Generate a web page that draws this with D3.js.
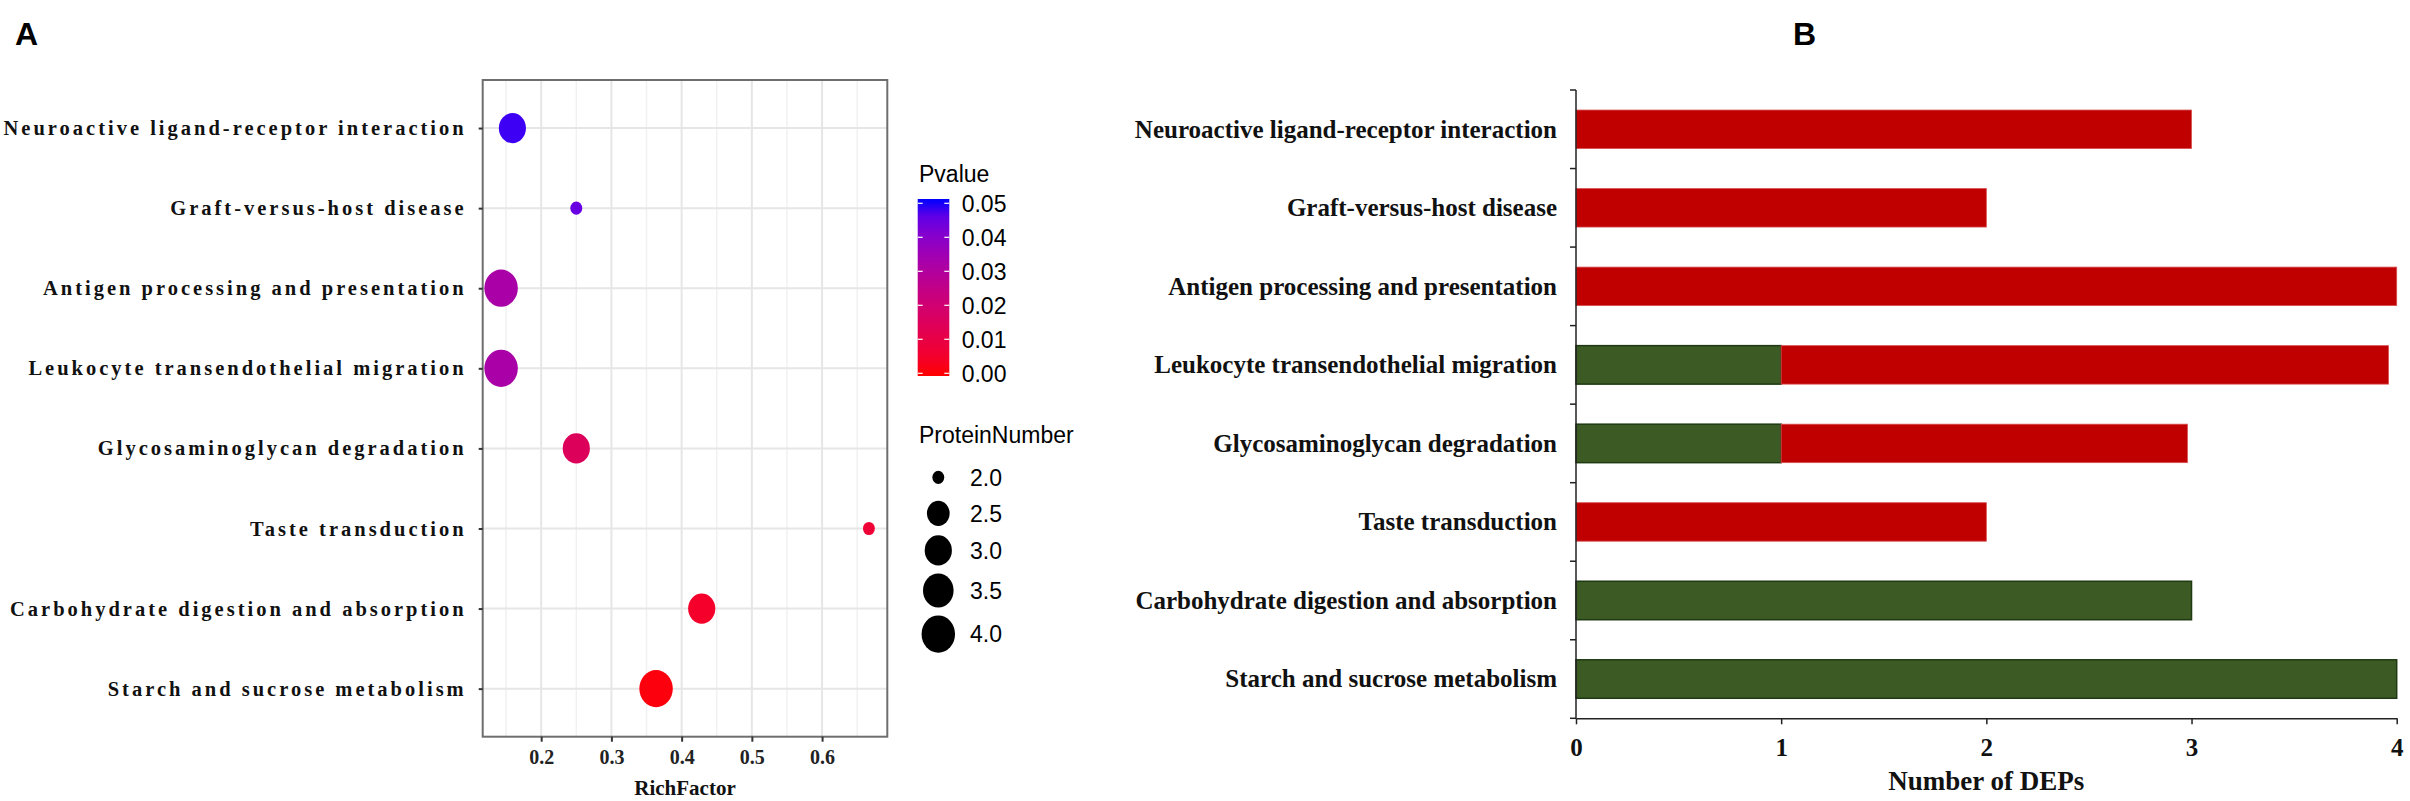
<!DOCTYPE html>
<html>
<head>
<meta charset="utf-8">
<script src="https://cdn.jsdelivr.net/npm/d3@7"></script>
<style>
  body { margin: 0; background: #fff; overflow: hidden; }
  svg { display: block; }
</style>
</head>
<body>
<div id="wrapper"></div>
<script>
//Data

const pathways = [
    "Neuroactive ligand-receptor interaction",
    "Graft-versus-host disease",
    "Antigen processing and presentation",
    "Leukocyte transendothelial migration",
    "Glycosaminoglycan degradation",
    "Taste transduction",
    "Carbohydrate digestion and absorption",
    "Starch and sucrose metabolism"
];
const richFactor = [0.159, 0.25, 0.1429, 0.1429, 0.25, 0.6667, 0.4286, 0.3636];
const pValue = [0.048, 0.044, 0.032, 0.032, 0.015, 0.0075, 0.005, 0.001];
const proteinNumber = [3, 2, 4, 4, 3, 2, 3, 4];
const richTicks = [0.2, 0.3, 0.4, 0.5, 0.6];
const richMinorTicks = [0.15, 0.25, 0.35, 0.45, 0.55, 0.65];
const pTicks = [0.05, 0.04, 0.03, 0.02, 0.01, 0.00];
const sizeTicks = [2.0, 2.5, 3.0, 3.5, 4.0];

const downDEPs = [0, 0, 0, 1, 1, 0, 3, 4];
const upDEPs = [3, 2, 4, 2.96, 1.98, 2, 0, 0];
const depTicks = [0, 1, 2, 3, 4];

function drawFigure(){
    //1) Canvas

    const width = 2410, height = 801;
    const svg = d3.select("#wrapper")
                    .append("svg")
                    .attr("width", width)
                    .attr("height", height);

    svg.append("rect").attr("width", width).attr("height", height).attr("fill", "#fff");

    const serif = "'Liberation Serif', 'Times New Roman', serif";
    const sans = "'Liberation Sans', Arial, sans-serif";

    //panel letters
    svg.append("text").attr("x", 15).attr("y", 45)
        .attr("font-family", sans).attr("font-weight", "bold").attr("font-size", 32)
        .text("A");
    svg.append("text").attr("x", 1793).attr("y", 45)
        .attr("font-family", sans).attr("font-weight", "bold").attr("font-size", 32)
        .text("B");

    //2) Panel A - bubble chart

    const dataA = pathways.map((p, i) => ({
        pathway: p, rich: richFactor[i], p: pValue[i], n: proteinNumber[i]
    }));

    const boxA = {left: 482.7, right: 887.3, top: 80, bottom: 736.7};

    const ext = d3.extent(richFactor);
    const pad = (ext[1] - ext[0]) * 0.05;
    const xScale = d3.scaleLinear()
                        .domain([ext[0] - pad, ext[1] + pad])
                        .range([boxA.left, boxA.right]);

    const yScale = d3.scalePoint()
                        .domain(pathways)
                        .range([boxA.top, boxA.bottom])
                        .padding(0.6);

    const colorScale = d3.scaleLinear()
                        .domain([0, 0.05])
                        .range(["red", "blue"])
                        .interpolate(d3.interpolateLab);

    //size like ggplot area scale
    const sizeScale = d3.scaleLinear().domain([0, 1]).range([6.6, 18.6]);
    const radius = n => sizeScale(Math.sqrt((n - 2) / 2));
    const aspect = 0.9;

    const panelA = svg.append("g");

    //grid
    panelA.selectAll(".minor")
        .data(richMinorTicks)
        .enter().append("line")
        .attr("x1", d => xScale(d)).attr("x2", d => xScale(d))
        .attr("y1", boxA.top).attr("y2", boxA.bottom)
        .attr("stroke", "#f1f1f1").attr("stroke-width", 1.5);

    panelA.selectAll(".major")
        .data(richTicks)
        .enter().append("line")
        .attr("x1", d => xScale(d)).attr("x2", d => xScale(d))
        .attr("y1", boxA.top).attr("y2", boxA.bottom)
        .attr("stroke", "#e6e6e6").attr("stroke-width", 2);

    panelA.selectAll(".hgrid")
        .data(pathways)
        .enter().append("line")
        .attr("x1", boxA.left).attr("x2", boxA.right)
        .attr("y1", d => yScale(d)).attr("y2", d => yScale(d))
        .attr("stroke", "#e6e6e6").attr("stroke-width", 2);

    //points
    panelA.selectAll("ellipse")
        .data(dataA)
        .enter().append("ellipse")
        .attr("cx", d => xScale(d.rich))
        .attr("cy", d => yScale(d.pathway))
        .attr("rx", d => radius(d.n) * aspect)
        .attr("ry", d => radius(d.n))
        .attr("fill", d => colorScale(d.p));

    //border
    panelA.append("rect")
        .attr("x", boxA.left).attr("y", boxA.top)
        .attr("width", boxA.right - boxA.left).attr("height", boxA.bottom - boxA.top)
        .attr("fill", "none").attr("stroke", "#6e6e6e").attr("stroke-width", 2);

    //axes
    const yAxisA = panelA.append("g")
        .attr("transform", `translate(${boxA.left},0)`)
        .call(d3.axisLeft(yScale).tickSize(4).tickPadding(12));
    yAxisA.select(".domain").remove();
    yAxisA.selectAll("line").attr("stroke", "#333").attr("stroke-width", 2);
    yAxisA.selectAll("text")
        .attr("font-family", serif).attr("font-weight", "bold")
        .attr("font-size", 20.5).attr("fill", "#111")
        .style("letter-spacing", "3px");

    const xAxisA = panelA.append("g")
        .attr("transform", `translate(0,${boxA.bottom})`)
        .call(d3.axisBottom(xScale).tickValues(richTicks).tickFormat(d3.format(".1f")).tickSize(5).tickPadding(8));
    xAxisA.select(".domain").remove();
    xAxisA.selectAll("line").attr("stroke", "#333").attr("stroke-width", 2);
    xAxisA.selectAll("text")
        .attr("font-family", serif).attr("font-weight", "bold")
        .attr("font-size", 20).attr("fill", "#222");

    panelA.append("text")
        .attr("x", (boxA.left + boxA.right) / 2).attr("y", 795)
        .attr("text-anchor", "middle")
        .attr("font-family", serif).attr("font-weight", "bold").attr("font-size", 21)
        .attr("fill", "#111")
        .text("RichFactor");

    //3) Legends of panel A

    const legend = svg.append("g");
    legend.append("text").attr("x", 919).attr("y", 181.7)
        .attr("font-family", sans).attr("font-size", 23).text("Pvalue");

    const grad = svg.append("defs").append("linearGradient")
        .attr("id", "pgrad").attr("x1", 0).attr("x2", 0).attr("y1", 1).attr("y2", 0);
    d3.range(0, 1.0001, 0.1).forEach(t => {
        grad.append("stop").attr("offset", t).attr("stop-color", colorScale(t * 0.05));
    });

    const barTop = 199, barBottom = 376, barX = 917.7, barW = 31.6;
    const pScale = d3.scaleLinear().domain([0, 0.05]).range([373.3, 203.3]);

    legend.append("rect")
        .attr("x", barX).attr("y", barTop)
        .attr("width", barW).attr("height", barBottom - barTop)
        .attr("fill", "url(#pgrad)");

    const pKeys = legend.selectAll(".pkey").data(pTicks).enter().append("g");
    pKeys.append("line")
        .attr("x1", barX).attr("x2", barX + 5)
        .attr("y1", d => pScale(d)).attr("y2", d => pScale(d))
        .attr("stroke", "#fff").attr("stroke-width", 1.2);
    pKeys.append("line")
        .attr("x1", barX + barW - 5).attr("x2", barX + barW)
        .attr("y1", d => pScale(d)).attr("y2", d => pScale(d))
        .attr("stroke", "#fff").attr("stroke-width", 1.2);
    pKeys.append("text")
        .attr("x", 961.7).attr("y", d => pScale(d))
        .attr("dy", "0.36em")
        .attr("font-family", sans).attr("font-size", 23)
        .text(d => d3.format(".2f")(d));

    legend.append("text").attr("x", 919).attr("y", 443.3)
        .attr("font-family", sans).attr("font-size", 23).text("ProteinNumber");

    //stack the size keys
    let cy = 459.3;
    const sizeKeys = sizeTicks.map(v => {
        const h = Math.max(2 * radius(v) + 8, 36);
        const k = {v: v, y: cy + h / 2};
        cy += h;
        return k;
    });

    legend.selectAll(".skey").data(sizeKeys).enter().append("ellipse")
        .attr("cx", 938.3).attr("cy", d => d.y)
        .attr("rx", d => radius(d.v) * aspect).attr("ry", d => radius(d.v))
        .attr("fill", "#000");
    legend.selectAll(".slabel").data(sizeKeys).enter().append("text")
        .attr("x", 970).attr("y", d => d.y).attr("dy", "0.36em")
        .attr("font-family", sans).attr("font-size", 23)
        .text(d => d3.format(".1f")(d.v));

    //4) Panel B - stacked bars

    const dataB = pathways.map((p, i) => ({pathway: p, down: downDEPs[i], up: upDEPs[i]}));

    const boxB = {left: 1576, right: 2396.7, top: 90, bottom: 718.3};

    const xScaleB = d3.scaleLinear().domain([0, 4]).range([boxB.left, boxB.right]);
    const yScaleB = d3.scaleBand()
                        .domain(pathways)
                        .range([boxB.top, boxB.bottom])
                        .paddingInner(0.51)
                        .paddingOuter(0.255);

    const panelB = svg.append("g");

    panelB.selectAll(".down")
        .data(dataB.filter(d => d.down > 0))
        .enter().append("rect")
        .attr("x", xScaleB(0))
        .attr("y", d => yScaleB(d.pathway))
        .attr("width", d => xScaleB(d.down) - xScaleB(0))
        .attr("height", yScaleB.bandwidth())
        .attr("fill", "#3c5a24")
        .attr("stroke", "#1f3a12").attr("stroke-width", 1.5);

    panelB.selectAll(".up")
        .data(dataB.filter(d => d.up > 0))
        .enter().append("rect")
        .attr("x", d => xScaleB(d.down))
        .attr("y", d => yScaleB(d.pathway))
        .attr("width", d => xScaleB(d.down + d.up) - xScaleB(d.down))
        .attr("height", yScaleB.bandwidth())
        .attr("fill", "#c00000")
        .attr("stroke", "#d85050").attr("stroke-width", 0.8);

    //y axis with ticks at band edges
    panelB.append("line")
        .attr("x1", boxB.left).attr("x2", boxB.left)
        .attr("y1", boxB.top).attr("y2", boxB.bottom)
        .attr("stroke", "#222").attr("stroke-width", 1.5);
    const bandEdges = pathways.map(p => yScaleB(p) - yScaleB.step() * yScaleB.paddingInner() / 2);
    bandEdges.push(boxB.bottom);
    panelB.selectAll(".ytick").data(bandEdges).enter().append("line")
        .attr("x1", boxB.left - 6).attr("x2", boxB.left)
        .attr("y1", d => d).attr("y2", d => d)
        .attr("stroke", "#222").attr("stroke-width", 1.5);

    panelB.selectAll(".ylabel").data(pathways).enter().append("text")
        .attr("x", 1557).attr("y", d => yScaleB(d) + yScaleB.bandwidth() / 2)
        .attr("dy", "0.33em").attr("text-anchor", "end")
        .attr("font-family", serif).attr("font-weight", "bold").attr("font-size", 25)
        .attr("fill", "#111")
        .text(d => d);

    const xAxisB = panelB.append("g")
        .attr("transform", `translate(0,${boxB.bottom})`)
        .call(d3.axisBottom(xScaleB).tickValues(depTicks).tickFormat(d3.format("d")).tickSize(6).tickPadding(14).tickSizeOuter(0));
    xAxisB.select(".domain").attr("stroke", "#222").attr("stroke-width", 1.5);
    xAxisB.selectAll("line").attr("stroke", "#222").attr("stroke-width", 1.5);
    xAxisB.selectAll("text")
        .attr("font-family", serif).attr("font-weight", "bold")
        .attr("font-size", 25).attr("fill", "#111");

    panelB.append("text")
        .attr("x", (boxB.left + boxB.right) / 2).attr("y", 790)
        .attr("text-anchor", "middle")
        .attr("font-family", serif).attr("font-weight", "bold").attr("font-size", 27)
        .attr("fill", "#111")
        .text("Number of DEPs");
}
drawFigure()
</script>
</body>
</html>
